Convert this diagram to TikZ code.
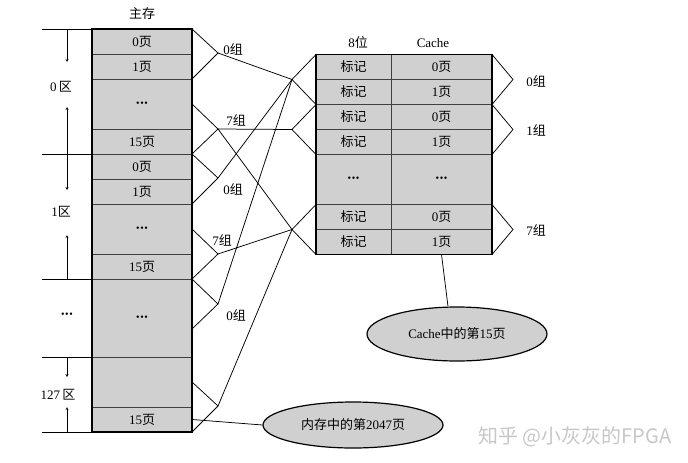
\documentclass[tikz,border=0pt]{standalone}
\usepackage{fontspec}
\setmainfont{Liberation Serif}
\newfontfamily\cjk{Noto Sans CJK SC}
\newcommand\zh[1]{{\cjk #1}}
\newcommand\dotrow{{\fontsize{10}{10}\selectfont\textbullet\kern0.6pt\textbullet\kern0.6pt\textbullet}}
\usetikzlibrary{positioning, arrows, shapes.geometric}
\definecolor{cellgray}{HTML}{D0D0D0}

\begin{document}
\begin{tikzpicture}[x=1pt,y=-1pt,>=stealth,semithick,font=\fontsize{13}{15}\selectfont,
    memrow/.style={draw=black!75,thin,fill=cellgray,minimum width=100pt,inner sep=0pt,outer sep=0pt},
    tagcell/.style={memrow,minimum width=75pt,minimum height=25pt},
    pagecell/.style={memrow,minimum width=101pt,minimum height=25pt},
    frame/.style={draw,line width=1.2pt},
    link/.style={line width=0.75pt},
    oval/.style={ellipse,draw,line width=1.2pt,fill=cellgray,inner sep=0pt}]
  \useasboundingbox (0,0) rectangle (688,463);

  % main memory
  \node (mainmem) at (142,14) {\zh{主存}};
  \node[memrow,minimum height=25pt] (m1) at (142,41.5) {0\zh{页}};
  \node[memrow,minimum height=25pt,below=0pt of m1] (m2) {1\zh{页}};
  \node[memrow,minimum height=50pt,below=0pt of m2] (m3) {\dotrow};
  \node[memrow,minimum height=25pt,below=0pt of m3] (m4) {15\zh{页}};
  \node[memrow,minimum height=25pt,below=0pt of m4] (m5) {0\zh{页}};
  \node[memrow,minimum height=25pt,below=0pt of m5] (m6) {1\zh{页}};
  \node[memrow,minimum height=50pt,below=0pt of m6] (m7) {\dotrow};
  \node[memrow,minimum height=25pt,below=0pt of m7] (m8) {15\zh{页}};
  \node[memrow,minimum height=78pt,below=0pt of m8] (m9) {\dotrow};
  \node[memrow,minimum height=50pt,below=0pt of m9] (m10) {};
  \node[memrow,minimum height=25pt,below=0pt of m10] (m11) {15\zh{页}};
  \draw[frame] (m1.north west) rectangle (m11.south east);

  % zones
  \foreach \r in {m1,m5,m9,m10} \draw[thin] (\r.north west) -- ++(-50,0);
  \draw[thin] (m11.south west) -- ++(-50,0);
  \draw[thin,->] ([xshift=-25pt]m1.north west) -- ++(0,33);
  \draw[thin,->] ([xshift=-25pt]m5.north west) -- ++(0,-47);
  \draw[thin,->] ([xshift=-25pt]m5.north west) -- ++(0,36);
  \draw[thin,->] ([xshift=-25pt]m9.north west) -- ++(0,-44);
  \draw[thin,->] ([xshift=-25pt]m10.north west) -- ++(0,20);
  \draw[thin,->] ([xshift=-25pt]m11.south west) -- ++(0,-25);
  \node (zone0) at (61,87) {0\,\zh{区}};
  \node (zone1) at (61,212) {1\zh{区}};
  \node (zonedots) at (67,315) {\dotrow};
  \node (zone127) at (58,395) {127\,\zh{区}};

  % cache
  \node (tagbits) at (358,43) {8\zh{位}};
  \node (cachehd) at (433,43) {Cache};
  \node[tagcell] (t1) at (353.5,67) {\zh{标记}};
  \node[pagecell,right=0pt of t1] (p1) {0\zh{页}};
  \node[tagcell,below=0pt of t1] (t2) {\zh{标记}};
  \node[pagecell,right=0pt of t2] (p2) {1\zh{页}};
  \node[tagcell,below=0pt of t2] (t3) {\zh{标记}};
  \node[pagecell,right=0pt of t3] (p3) {0\zh{页}};
  \node[tagcell,below=0pt of t3] (t4) {\zh{标记}};
  \node[pagecell,right=0pt of t4] (p4) {1\zh{页}};
  \node[tagcell,minimum height=50pt,below=0pt of t4] (t5) {\dotrow};
  \node[pagecell,minimum height=50pt,right=0pt of t5] (p5) {\dotrow};
  \node[tagcell,below=0pt of t5] (t6) {\zh{标记}};
  \node[pagecell,right=0pt of t6] (p6) {0\zh{页}};
  \node[tagcell,below=0pt of t6] (t7) {\zh{标记}};
  \node[pagecell,right=0pt of t7] (p7) {1\zh{页}};
  \draw[frame] (t1.north west) rectangle (p7.south east);

  % group tips
  \coordinate (M1) at (218,53);
  \coordinate (M2) at (218,129);
  \coordinate (M3) at (218,178);
  \coordinate (M4) at (218,254);
  \coordinate (M5) at (218,304);
  \coordinate (M6) at (218,406);
  \coordinate (C0) at (292,79.5);
  \coordinate (C1) at (292,129.5);
  \coordinate (C7) at (292,229.5);
  \coordinate (g0) at (513,79.5);
  \coordinate (g1) at (513,129.5);
  \coordinate (g7) at (513,229.5);

  \draw[link] (m1.north east) -- (M1) -- (m2.south east);
  \draw[link] (m3.east) -- (M2) -- (m4.south east);
  \draw[link] (m5.north east) -- (M3) -- (m6.south east);
  \draw[link] (m7.east) -- (M4) -- (m8.south east);
  \draw[link] (m9.north east) -- (M5) -- ([yshift=-50pt]m9.north east);
  \draw[link] (m10.east) -- (M6) -- (m11.south east);
  \draw[link] (t1.north west) -- (C0) -- (t2.south west);
  \draw[link] (t3.north west) -- (C1) -- (t4.south west);
  \draw[link] (t6.north west) -- (C7) -- (t7.south west);
  \draw[link] (p1.north east) -- (g0) -- (p2.south east);
  \draw[link] (p3.north east) -- (g1) -- (p4.south east);
  \draw[link] (p6.north east) -- (g7) -- (p7.south east);

  \node (lblM1) at (233,49) {0\zh{组}};
  \node (lblM2) at (236,120) {7\zh{组}};
  \node (lblM3) at (233,189) {0\zh{组}};
  \node (lblM4) at (222,240) {7\zh{组}};
  \node (lblM5) at (236,315) {0\zh{组}};
  \node (lblg0) at (536,81) {0\zh{组}};
  \node (lblg1) at (536,130) {1\zh{组}};
  \node (lblg7) at (536,230) {7\zh{组}};

  \path[link] (M1) edge (C0)
        (M2) edge (C1)
        (M2) edge (C7)
        (M3) edge (C0)
        (M4) edge (C7)
        (M5) edge (C0)
        (M6) edge (C7);

  % ovals
  \node[oval,minimum width=180pt,minimum height=46pt] (memoval) at (353,425) {\zh{内存中的第}2047\zh{页}};
  \node[oval,minimum width=180pt,minimum height=54pt] (cacheoval) at (457,334) {Cache\zh{中的第}15\zh{页}};
  \draw[link] (m11.east) -- (memoval.west);
  \draw[link] (p7.south) -- ([xshift=-9pt]cacheoval.north);

  \node[text=black!22,font=\cjk\fontsize{20}{22}\selectfont] (mark) at (575,437) {知乎 @小灰灰的FPGA};
\end{tikzpicture}
\end{document}
